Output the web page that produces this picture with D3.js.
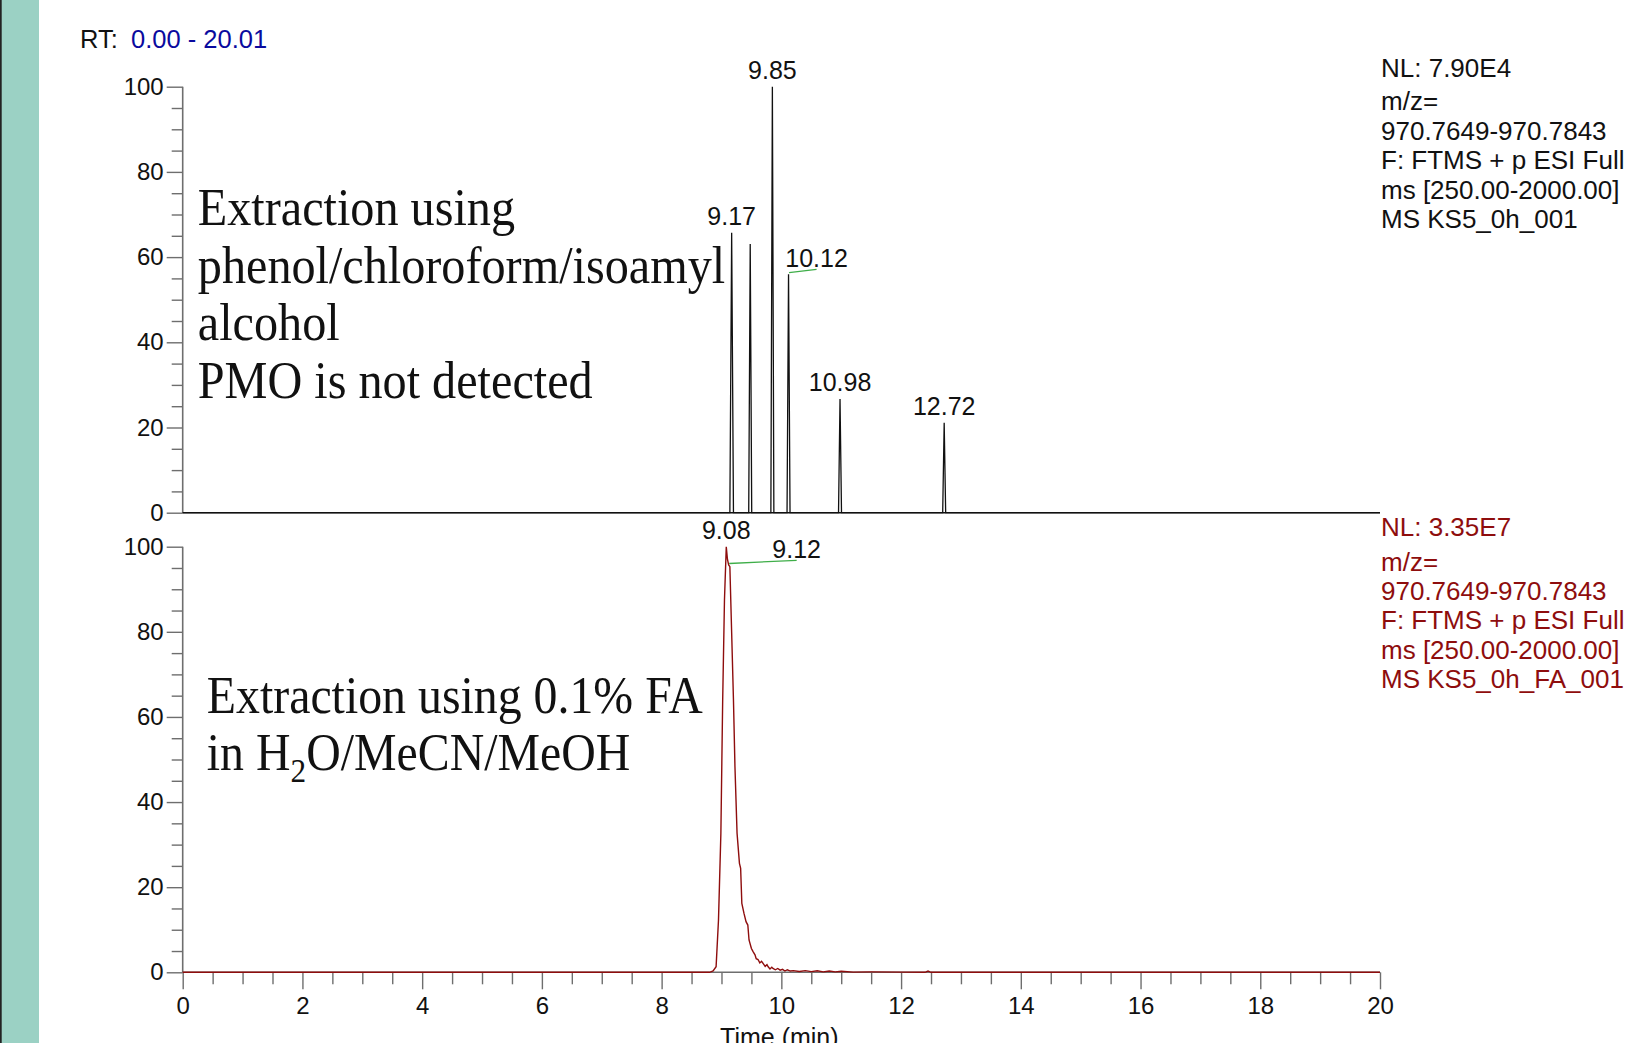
<!DOCTYPE html>
<html><head><meta charset="utf-8">
<script src="https://cdn.jsdelivr.net/npm/d3@7"></script>
<style>html,body{margin:0;padding:0;background:#fff;overflow:hidden}</style>
</head><body>
<svg id="chart" width="1638" height="1043"></svg>
<script>
// ---------- DATA ----------
const topTimes = [0, 9.14, 9.17, 9.20, 9.455, 9.48, 9.505, 9.825, 9.85, 9.875, 10.095, 10.12, 10.145, 10.955, 10.98, 11.005, 12.695, 12.72, 12.745, 20.01];
const topIntensity = [0, 0, 65.7, 0, 0, 63.1, 0, 0, 100, 0, 0, 56.0, 0, 0, 26.7, 0, 0, 21.1, 0, 0];

const bottomTimes = [0, 8.80, 8.86, 8.91, 8.95, 8.99, 9.02, 9.05, 9.08, 9.10, 9.12, 9.14, 9.17, 9.20, 9.225, 9.26, 9.30, 9.32, 9.34, 9.375, 9.41, 9.44, 9.46, 9.50, 9.53, 9.56, 9.58, 9.61, 9.64, 9.67, 9.70, 9.73, 9.76, 9.78, 9.81, 9.84, 9.86, 9.90, 9.94, 9.98, 10.02, 10.06, 10.10, 10.15, 10.20, 10.30, 10.40, 10.50, 10.60, 10.70, 10.80, 10.90, 11.00, 11.20, 11.50, 12.00, 12.40, 12.45, 12.50, 13.00, 20.01];
const bottomIntensity = [0, 0, 0.3, 1.3, 12.3, 32.7, 64.0, 87.6, 100, 97.0, 95.7, 95.3, 79.7, 64.0, 48.3, 32.7, 25.6, 24.4, 16.2, 13.9, 11.9, 11.1, 7.6, 5.6, 4.8, 4.1, 3.2, 3.0, 2.2, 2.6, 2.0, 1.4, 1.8, 1.3, 0.8, 1.2, 0.9, 0.6, 0.9, 0.5, 0.7, 0.3, 0.6, 0.3, 0.4, 0.2, 0.4, 0.15, 0.35, 0.1, 0.3, 0.1, 0.25, 0.05, 0.1, 0.05, 0.0, 0.3, 0, 0, 0];

const topPeakLabels = ["9.17", "9.85", "10.12", "10.98", "12.72"];
const topPeakTimes = [9.17, 9.85, 10.12, 10.98, 12.72];
const topPeakIntensity = [65.7, 100, 56.0, 26.7, 21.1];

const bottomPeakLabels = ["9.08", "9.12"];
const bottomPeakTimes = [9.08, 9.12];
const bottomPeakIntensity = [100, 95.7];

const xTickLabels = [0, 2, 4, 6, 8, 10, 12, 14, 16, 18, 20];
const yTickLabels = [0, 20, 40, 60, 80, 100];

const topInfo = ["NL: 7.90E4", "m/z=", "970.7649-970.7843", "F: FTMS + p ESI Full", "ms [250.00-2000.00]", "MS KS5_0h_001"];
const bottomInfo = ["NL: 3.35E7", "m/z=", "970.7649-970.7843", "F: FTMS + p ESI Full", "ms [250.00-2000.00]", "MS KS5_0h_FA_001"];

const rtLabel = "RT:";
const rtRange = "0.00 - 20.01";
const xTitle = "Time (min)";

const topNote = ["Extraction using", "phenol/chloroform/isoamyl", "alcohol", "PMO is not detected"];

// ---------- LAYOUT ----------
const svg = d3.select("#chart");
const SANS = "'Liberation Sans', Arial, sans-serif";
const SERIF = "'Liberation Serif', 'Times New Roman', serif";
const axisGray = "#6e6e6e";
const darkRed = "#8e0d0d";
const green = "#3fae49";

svg.append("rect").attr("x", 0).attr("y", 0).attr("width", 1638).attr("height", 1043).attr("fill", "#fff");
svg.append("rect").attr("x", 0).attr("y", 0).attr("width", 39).attr("height", 1043).attr("fill", "#9bd1c4");
svg.append("rect").attr("x", 0).attr("y", 0).attr("width", 1.7).attr("height", 1043).attr("fill", "#222");

const x = d3.scaleLinear().domain([0, 20]).range([182.7, 1380]);
const yTop = d3.scaleLinear().domain([0, 100]).range([512.7, 86.7]);
const yBot = d3.scaleLinear().domain([0, 100]).range([972.3, 546.7]);

// RT header
const rt = svg.append("text").attr("x", 80).attr("y", 48).attr("font-family", SANS).attr("font-size", 25.5);
rt.append("tspan").attr("fill", "#111").text(rtLabel);
rt.append("tspan").attr("x", 131).attr("fill", "#0a0a9e").text(rtRange);

function yAxis(scale) {
  const g = svg.append("g").attr("transform", `translate(${x(0)},0)`);
  const minor = d3.range(0, 101, 5).filter(v => v % 20 !== 0);
  g.append("g").call(d3.axisLeft(scale).tickValues(minor).tickSize(11).tickFormat(""))
    .call(s => s.select(".domain").remove());
  g.append("g").call(d3.axisLeft(scale).tickValues(yTickLabels).tickSize(16).tickPadding(3).tickFormat(d3.format("d")))
    .call(s => s.select(".domain").remove());
  g.selectAll(".tick line").attr("stroke", axisGray).attr("stroke-width", 1.4);
  g.selectAll(".tick text").attr("font-family", SANS).attr("font-size", 24).attr("fill", "#111");
  g.append("line").attr("x1", 0).attr("x2", 0).attr("y1", scale(100)).attr("y2", scale(0))
    .attr("stroke", axisGray).attr("stroke-width", 1.6);
}
yAxis(yTop);
yAxis(yBot);

// bottom x axis
const xg = svg.append("g").attr("transform", `translate(0,${yBot(0)})`);
const minorX = d3.range(0, 20.01, 0.5).filter(v => v % 2 !== 0);
xg.append("g").call(d3.axisBottom(x).tickValues(minorX).tickSize(12).tickFormat(""))
  .call(s => s.select(".domain").remove());
xg.append("g").call(d3.axisBottom(x).tickValues(xTickLabels).tickSize(17).tickPadding(8).tickFormat(d3.format("d")))
  .call(s => s.select(".domain").remove());
xg.selectAll(".tick line").attr("stroke", axisGray).attr("stroke-width", 1.4);
xg.selectAll(".tick text").attr("font-family", SANS).attr("font-size", 24).attr("fill", "#111");
xg.append("line").attr("x1", x(0)).attr("x2", x(20)).attr("y1", 0).attr("y2", 0).attr("stroke", axisGray).attr("stroke-width", 1.4);

svg.append("text").attr("x", x(10) - 2).attr("y", 1046).attr("text-anchor", "middle")
  .attr("font-family", SANS).attr("font-size", 25).attr("fill", "#111").text(xTitle);

// top baseline
svg.append("line").attr("x1", x(0)).attr("x2", x(20)).attr("y1", yTop(0)).attr("y2", yTop(0))
  .attr("stroke", "#111").attr("stroke-width", 1.6);

// traces
const topData = topTimes.map((t, i) => [t, topIntensity[i]]);
const botData = bottomTimes.map((t, i) => [t, bottomIntensity[i]]);
svg.append("path").datum(topData)
  .attr("d", d3.line().x(d => x(Math.min(d[0], 20))).y(d => yTop(d[1])))
  .attr("fill", "none").attr("stroke", "#111").attr("stroke-width", 1.3);
svg.append("path").datum(botData)
  .attr("d", d3.line().x(d => x(Math.min(d[0], 20))).y(d => yBot(d[1])))
  .attr("fill", "none").attr("stroke", darkRed).attr("stroke-width", 1.4);

// peak labels
const shifted = { "10.12": [28, -7], "9.12": [68, -7] };
function peakLabels(labels, times, ints, scale) {
  labels.forEach((lab, i) => {
    const px = x(times[i]), py = scale(ints[i]);
    const s = shifted[lab];
    if (s) {
      svg.append("line").attr("x1", px + 0.5).attr("y1", py - 1.5).attr("x2", px + s[0]).attr("y2", py + s[1] + 2.3)
        .attr("stroke", green).attr("stroke-width", 1.3);
      svg.append("text").attr("x", px + s[0]).attr("y", py + s[1]).attr("text-anchor", "middle")
        .attr("font-family", SANS).attr("font-size", 25).attr("fill", "#111").text(lab);
    } else {
      svg.append("text").attr("x", px).attr("y", py - 8).attr("text-anchor", "middle")
        .attr("font-family", SANS).attr("font-size", 25).attr("fill", "#111").text(lab);
    }
  });
}
peakLabels(topPeakLabels, topPeakTimes, topPeakIntensity, yTop);
peakLabels(bottomPeakLabels, bottomPeakTimes, bottomPeakIntensity, yBot);

// info blocks
function info(lines, y0, y1, step, color) {
  lines.forEach((l, i) => {
    const y = i === 0 ? y0 : y1 + (i - 1) * step;
    svg.append("text").attr("x", 1381).attr("y", y)
      .attr("font-family", SANS).attr("font-size", 26).attr("fill", color).text(l);
  });
}
info(topInfo, 77, 110.3, 29.5, "#111");
info(bottomInfo, 535.5, 571, 29.2, darkRed);

// annotations (serif)
topNote.forEach((l, i) => {
  svg.append("g").attr("transform", `translate(197.8,${225 + i * 57.5}) scale(0.927,1)`)
    .append("text").attr("font-family", SERIF).attr("font-size", 52).attr("fill", "#111").text(l);
});
svg.append("g").attr("transform", `translate(206.8,713) scale(0.92,1)`)
  .append("text").attr("font-family", SERIF).attr("font-size", 52).attr("fill", "#111").text("Extraction using 0.1% FA");
const l2 = svg.append("g").attr("transform", `translate(206.8,770) scale(0.92,1)`)
  .append("text").attr("font-family", SERIF).attr("font-size", 52).attr("fill", "#111");
l2.append("tspan").text("in H");
l2.append("tspan").attr("font-size", 34).attr("dy", 12).text("2");
l2.append("tspan").attr("dy", -12).text("O/MeCN/MeOH");
</script>
</body></html>
